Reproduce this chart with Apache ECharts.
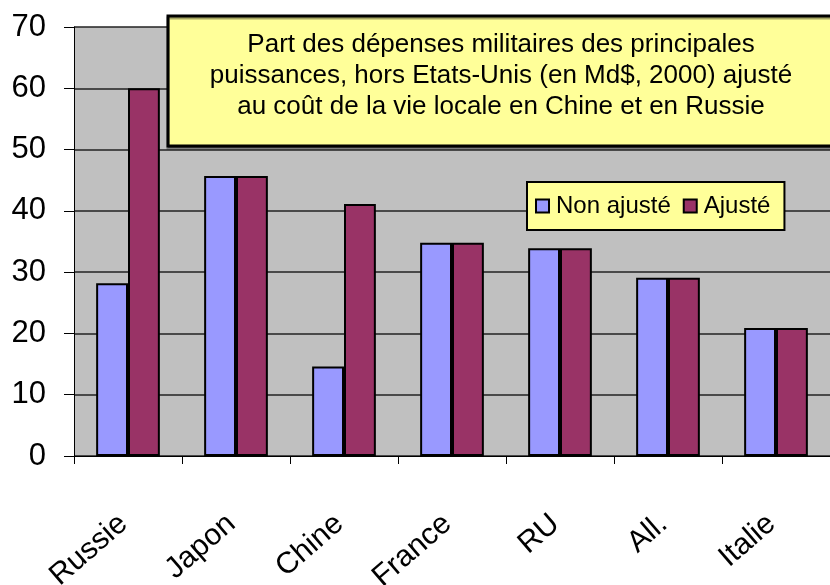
<!DOCTYPE html>
<html>
<head>
<meta charset="utf-8">
<script src="https://cdn.jsdelivr.net/npm/echarts@6/dist/echarts.min.js"></script>
<style>
html,body{margin:0;padding:0;background:#fff;overflow:hidden;}
#chart{width:830px;height:585px;}
</style>
</head>
<body>
<div id="chart"></div>
<script>
var categories = ['Russie', 'Japon', 'Chine', 'France', 'RU', 'All.', 'Italie'];
var nonAjuste = [28.2, 45.7, 14.6, 34.8, 33.9, 29.1, 20.9];
var ajuste = [60.0, 45.7, 41.1, 34.8, 33.9, 29.1, 20.9];
var seriesNames = ['Non ajusté', 'Ajusté'];
var yTicks = { min: 0, max: 70, interval: 10 };
var titleLines = [
  'Part des dépenses militaires des principales',
  'puissances, hors Etats-Unis (en Md$, 2000) ajusté',
  'au coût de la vie locale en Chine et en Russie'
];

var FONT = "'Liberation Sans', Arial, sans-serif";
var chart = echarts.init(document.getElementById('chart'), null, { renderer: 'canvas' });

chart.setOption({
  backgroundColor: '#ffffff',
  animation: false,
  textStyle: { fontFamily: FONT },
  grid: {
    left: 74, right: 0, top: 27, bottom: 129,
    containLabel: false,
    outerBoundsMode: 'none',
    show: true, backgroundColor: '#C0C0C0', borderWidth: 0
  },
  xAxis: {
    type: 'category',
    data: categories,
    axisLine: { lineStyle: { color: '#000', width: 1 } },
    axisTick: { show: true, length: 8, lineStyle: { color: '#000', width: 1 } },
    axisLabel: {
      rotate: 41, margin: 60, fontSize: 30, color: '#000', fontFamily: FONT,
      padding: [0, 6, 0, 0]
    },
    splitLine: { show: false }
  },
  yAxis: {
    type: 'value',
    min: yTicks.min, max: yTicks.max, interval: yTicks.interval,
    axisLine: { show: true, lineStyle: { color: '#000', width: 1 } },
    axisTick: { show: true, length: 10, lineStyle: { color: '#000', width: 1 } },
    axisLabel: { fontSize: 31, color: '#000', margin: 28, fontFamily: FONT },
    splitLine: { show: true, lineStyle: { color: '#222', width: 1.5 } }
  },
  legend: {
    data: seriesNames,
    left: 527, top: 182,
    orient: 'horizontal',
    padding: [12, 14, 12, 8],
    itemGap: 12,
    itemWidth: 13, itemHeight: 13,
    icon: 'rect',
    backgroundColor: '#FFFF99',
    borderColor: '#000', borderWidth: 2,
    itemStyle: { borderColor: '#000', borderWidth: 2 },
    textStyle: { fontSize: 24, color: '#000', fontFamily: FONT, padding: [0, 0, 0, 2] }
  },
  graphic: [
    {
      type: 'rect', z: 100,
      shape: { x: 168, y: 16, width: 700, height: 130 },
      style: { fill: '#FFFF99', stroke: '#000', lineWidth: 3,
               shadowColor: 'rgba(0,0,0,0.35)', shadowOffsetX: 0, shadowOffsetY: 2, shadowBlur: 0 }
    },
    {
      type: 'text', z: 101,
      x: 501, y: 29,
      style: {
        text: titleLines.join('\n'),
        fill: '#000', font: '26px ' + FONT,
        textAlign: 'center', textVerticalAlign: 'top', lineHeight: 31
      }
    }
  ],
  series: [
    {
      name: seriesNames[0], type: 'bar', data: nonAjuste,
      barGap: '0%', barCategoryGap: '41%',
      itemStyle: { color: '#9999FF', borderColor: '#000', borderWidth: 2 }
    },
    {
      name: seriesNames[1], type: 'bar', data: ajuste,
      barGap: '0%', barCategoryGap: '41%',
      itemStyle: { color: '#993366', borderColor: '#000', borderWidth: 2 }
    }
  ]
});
</script>
</body>
</html>
